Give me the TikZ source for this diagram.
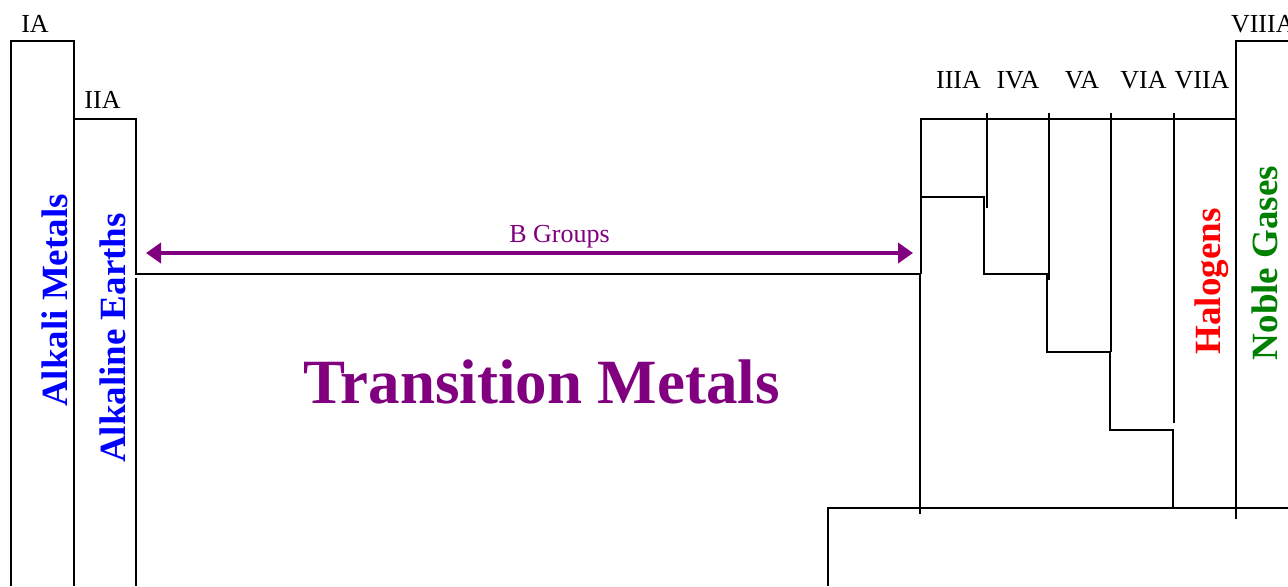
\documentclass[tikz,border=0pt]{standalone}
\usepackage{fontspec}
\setmainfont{Liberation Serif}
\usetikzlibrary{arrows.meta}

\definecolor{tmpurple}{RGB}{128,0,128}
\definecolor{ngreen}{RGB}{0,128,0}

\begin{document}
\begin{tikzpicture}[x=0.5pt, y=-0.5pt, line width=1pt,
  grp/.style={font=\fontsize{13}{15}\selectfont, inner sep=0pt, anchor=base},
  family/.style={font=\fontsize{18.5}{20}\selectfont\bfseries, rotate=90, inner sep=0pt, anchor=base},
  bgarrow/.style={tmpurple, line width=2pt, {Triangle[length=7.5pt, width=10pt]}-{Triangle[length=7.5pt, width=10pt]}}]
  \useasboundingbox (0,0) rectangle (1288,586);

  % s block
  \draw (11,586) -- (11,41) -- (74,41) -- (74,586);
  \draw (74,119) -- (136,119) -- (136,274) -- (921,274);
  \draw (136,278) -- (136,586);

  % p block
  \draw (921,274) -- (921,119) -- (1236,119);
  \draw (1236,519) -- (1236,41) -- (1288,41);
  \draw (987,113) -- (987,208);
  \draw (1049,113) -- (1049,280);
  \draw (1111,113) -- (1111,352);
  \draw (1174,113) -- (1174,423);
  \draw (921,197) -- (984,197) -- (984,274) -- (1047,274) -- (1047,352) -- (1110,352)
        -- (1110,430) -- (1173,430) -- (1173,508);
  \draw (920,273) -- (920,514);
  \draw (828,586) -- (828,508) -- (1288,508);

  % group numbers
  \node[grp] (ia) at (35,32) {IA};
  \node[grp] (iia) at (102.5,108) {IIA};
  \node[grp] (iiia) at (958.5,88) {IIIA};
  \node[grp] (iva) at (1018,88) {IVA};
  \node[grp] (va) at (1082,88) {VA};
  \node[grp] (via) at (1143.5,88) {VIA};
  \node[grp] (viia) at (1202,88) {VIIA};
  \node[grp, anchor=base west] (viiia) at (1230,32) {VIIIA};

  % families
  \node[family, blue] (alkali) at (67,300.5) {Alkali Metals};
  \node[family, blue] (earths) at (125,338) {Alkaline Earths};
  \node[family, red] (halo) at (1220,281.5) {Halogens};
  \node[family, ngreen] (noble) at (1277,263) {Noble Gases};

  % B groups
  \coordinate (bleft) at (146,253);
  \coordinate (bright) at (913,253);
  \draw[bgarrow] (bleft) -- (bright);
  \node[grp, tmpurple] (bgroups) at (559.5,242) {B Groups};
  \node[font=\fontsize{31.5}{34}\selectfont\bfseries, tmpurple, inner sep=0pt, anchor=base] (trans) at (541.5,403) {Transition Metals};
\end{tikzpicture}
\end{document}
